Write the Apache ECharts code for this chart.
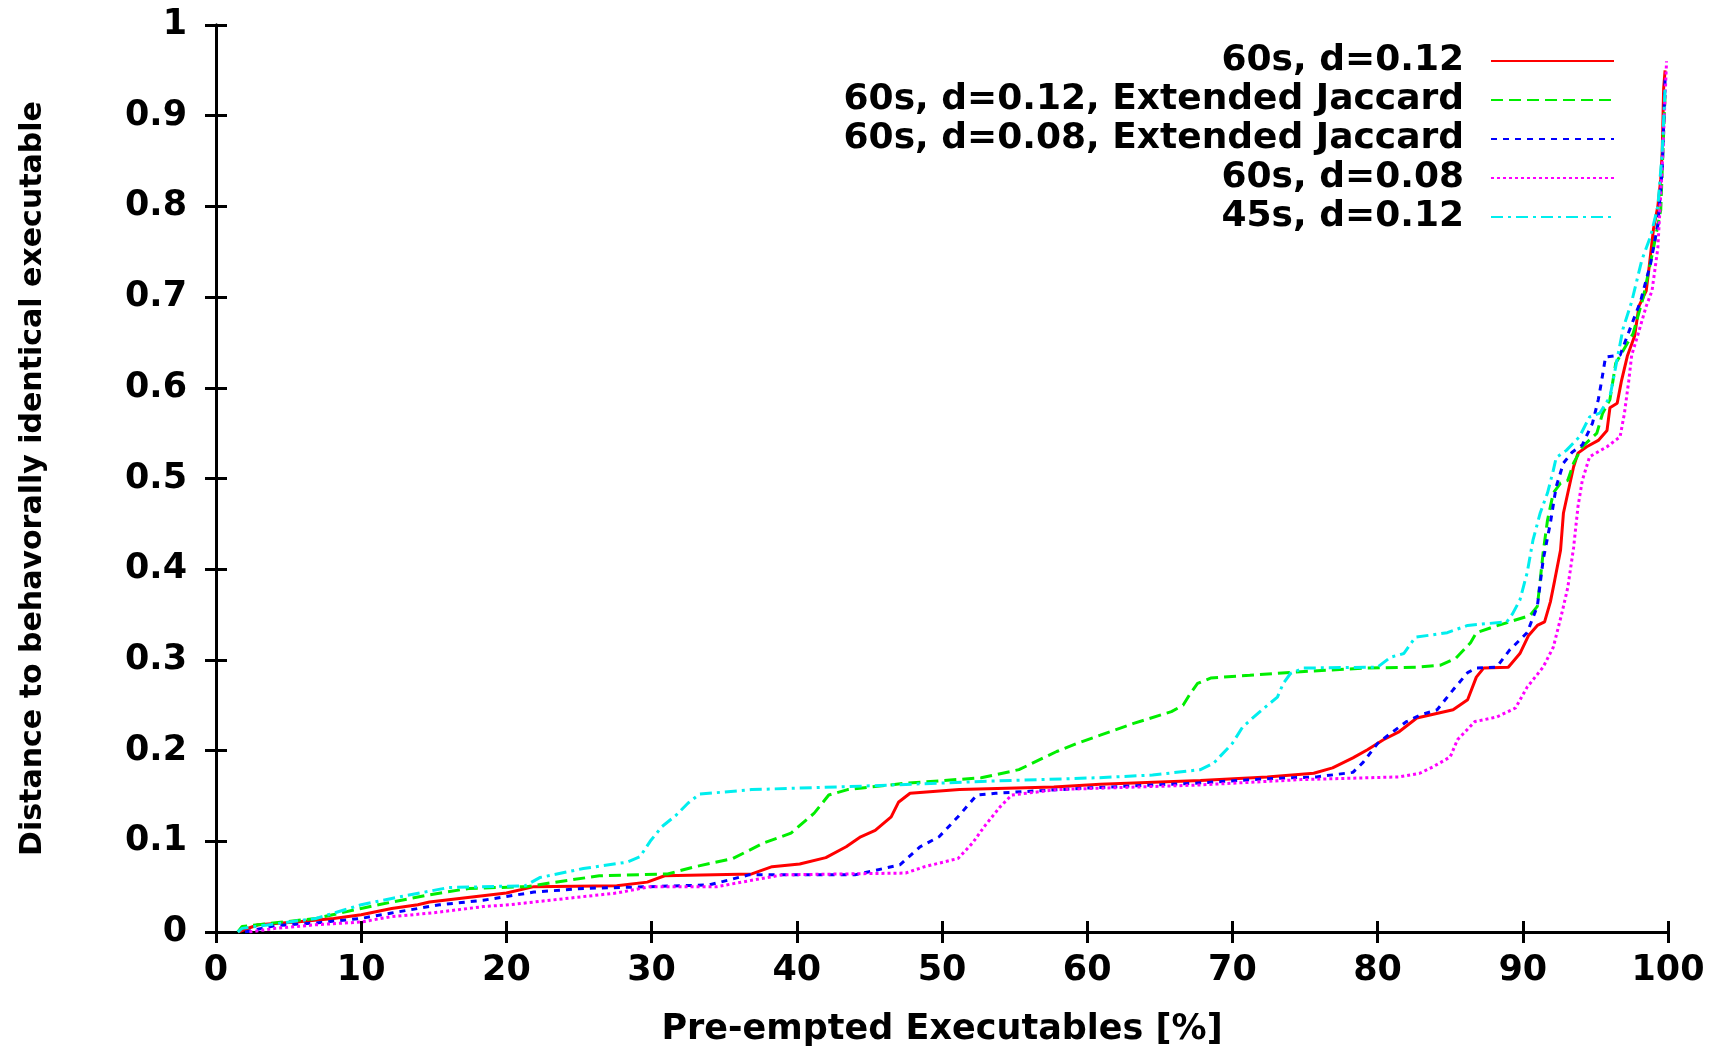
<!DOCTYPE html>
<html>
<head>
<meta charset="utf-8">
<title>Distance to behavorally identical executable</title>
<script src="https://cdn.jsdelivr.net/npm/echarts@6/dist/echarts.min.js"></script>
<style>
  html, body { margin: 0; padding: 0; background: #fff; }
  #chart { width: 1716px; height: 1049px; }
</style>
</head>
<body>
<div id="chart"></div>
<script>
// [percent pre-empted, distance] pairs
var red60s12 = [[1.5,0],[2.9,0.008],[5.5,0.011],[8.1,0.015],[10,0.019],[12.1,0.026],[13.9,0.03],[14.7,0.033],[20,0.043],[21.9,0.05],[27.6,0.051],[29.7,0.055],[30.9,0.062],[36.9,0.064],[38.3,0.072],[40.2,0.075],[42,0.082],[43.4,0.094],[44.4,0.105],[45.4,0.112],[46.5,0.127],[47,0.143],[47.8,0.153],[51.2,0.157],[57.7,0.16],[60.9,0.163],[67.8,0.167],[72.4,0.171],[75.6,0.175],[76.9,0.181],[78.3,0.192],[79.3,0.201],[80.4,0.212],[81.5,0.221],[82.7,0.236],[85.2,0.245],[86.2,0.256],[86.8,0.281],[87.3,0.291],[89,0.292],[89.8,0.307],[90.4,0.327],[91,0.338],[91.5,0.342],[91.9,0.364],[92.2,0.388],[92.6,0.421],[92.8,0.462],[93.1,0.484],[93.5,0.513],[93.8,0.528],[94.4,0.535],[95.2,0.542],[95.8,0.553],[96,0.578],[96.5,0.583],[96.8,0.608],[97.2,0.635],[97.7,0.657],[98,0.69],[98.5,0.707],[98.7,0.733],[99,0.775],[99.3,0.8],[99.5,0.83],[99.6,0.86],[99.7,0.93],[99.8,0.95]];
var green60s12ej = [[1.5,0],[1.8,0.006],[2.9,0.008],[6.9,0.015],[10,0.026],[12.1,0.033],[14.7,0.041],[17.4,0.048],[21.4,0.05],[23,0.054],[26.4,0.062],[31.1,0.064],[33,0.072],[35.6,0.081],[37.7,0.098],[39.6,0.109],[41.2,0.131],[42.2,0.151],[43.5,0.157],[47.5,0.164],[52.7,0.17],[55.3,0.179],[57.9,0.199],[59.3,0.208],[60.9,0.217],[63.2,0.23],[65.8,0.243],[66.6,0.25],[67.1,0.263],[67.6,0.274],[68.5,0.28],[71.2,0.283],[74.7,0.287],[79.3,0.291],[82.7,0.292],[84.3,0.294],[85.4,0.302],[86.4,0.319],[86.8,0.33],[87.9,0.336],[89.1,0.342],[90.5,0.349],[91,0.359],[91.2,0.388],[91.4,0.418],[91.7,0.454],[92.1,0.484],[92.6,0.495],[93.1,0.498],[93.5,0.517],[94.1,0.535],[95.1,0.55],[95.5,0.572],[96,0.587],[96.4,0.627],[97.6,0.66],[98.3,0.7],[99,0.754],[99.5,0.796],[99.8,0.923]];
var blue60s08ej = [[2,0],[2.1,0.002],[4.1,0.007],[6.9,0.01],[10,0.015],[12.1,0.021],[15.4,0.03],[18.4,0.035],[21.9,0.044],[25.3,0.048],[29.9,0.05],[34,0.052],[36.7,0.063],[44,0.063],[47.1,0.074],[48.5,0.094],[49.8,0.105],[51.1,0.127],[52.4,0.151],[53.7,0.153],[60.3,0.159],[67.3,0.164],[72.4,0.169],[75.8,0.171],[78.3,0.176],[79,0.187],[80,0.208],[80.9,0.219],[82,0.232],[82.9,0.239],[84.1,0.245],[85.2,0.267],[86.2,0.286],[86.8,0.291],[88.2,0.292],[89.1,0.311],[90.3,0.33],[91,0.359],[91.4,0.41],[91.9,0.451],[92.3,0.491],[92.8,0.517],[93.4,0.529],[94.1,0.537],[94.8,0.561],[95.2,0.587],[95.4,0.605],[95.7,0.634],[96.7,0.636],[97.5,0.67],[98.1,0.695],[98.8,0.737],[99.3,0.78],[99.6,0.84],[99.8,0.94]];
var magenta60s08 = [[2.3,0],[4.1,0.004],[6.9,0.008],[10,0.011],[12.1,0.017],[14.9,0.021],[18.4,0.028],[20.2,0.03],[23,0.035],[27.6,0.043],[29.9,0.05],[34.5,0.05],[36.9,0.057],[39,0.063],[47.5,0.065],[48.8,0.072],[51.1,0.081],[52.1,0.098],[52.9,0.116],[54,0.138],[54.8,0.151],[57.9,0.157],[67.6,0.162],[74.7,0.168],[81.5,0.171],[82.9,0.175],[83.8,0.182],[85,0.193],[85.5,0.212],[86.7,0.232],[88.2,0.237],[89.5,0.247],[90.3,0.27],[91.4,0.292],[92.1,0.314],[92.7,0.352],[93.1,0.38],[93.5,0.424],[93.8,0.469],[94.1,0.498],[94.6,0.524],[95.8,0.535],[96.7,0.546],[97,0.572],[97.3,0.608],[97.5,0.636],[97.9,0.657],[98.5,0.69],[98.9,0.707],[99.3,0.754],[99.6,0.843],[99.9,0.96]];
var cyan45s12 = [[1.5,0],[1.8,0.004],[6.9,0.015],[10,0.03],[12.1,0.037],[16,0.049],[21.3,0.051],[22.3,0.06],[25.3,0.07],[28.3,0.077],[29.2,0.083],[29.9,0.1],[30.7,0.116],[31.7,0.129],[32.5,0.142],[33.3,0.152],[36.9,0.157],[44.8,0.161],[52.7,0.166],[60.6,0.17],[64.5,0.173],[67.8,0.179],[68.7,0.186],[70,0.208],[70.7,0.226],[71.9,0.243],[73.1,0.259],[73.5,0.274],[74,0.285],[74.9,0.291],[80,0.292],[80.9,0.303],[81.8,0.307],[82.6,0.325],[84.8,0.33],[86.2,0.338],[88.9,0.342],[89.3,0.351],[89.8,0.366],[90.3,0.396],[90.7,0.432],[91.2,0.462],[91.7,0.484],[92.1,0.509],[92.3,0.523],[93,0.531],[93.9,0.546],[94.6,0.568],[95.3,0.572],[96,0.59],[96.9,0.665],[97.5,0.695],[98.2,0.741],[98.8,0.767],[99.3,0.8],[99.6,0.86],[99.8,0.93]];

var seriesNames = ["60s, d=0.12", "60s, d=0.12, Extended Jaccard", "60s, d=0.08, Extended Jaccard", "60s, d=0.08", "45s, d=0.12"];
var seriesData = [red60s12, green60s12ej, blue60s08ej, magenta60s08, cyan45s12];
var seriesColors = ["#ff0000", "#00ee00", "#0000ff", "#ff00ff", "#00eeee"];
var seriesDash = ["solid", [12, 6], [6, 6], [3, 3], [12, 5, 3, 5]];

var FONT = "DejaVu Sans";
var chart = echarts.init(document.getElementById("chart"), null, { renderer: "canvas" });

var txt = { fontFamily: FONT, fontWeight: "bold", fontSize: 35, color: "#000" };
var frameLine = { lineStyle: { color: "#000", width: 3 } };
var innerTick = { inside: true, length: 11, lineStyle: { color: "#000", width: 3 } };

var series = seriesData.map(function (d, i) {
    return {
        name: seriesNames[i],
        type: "line",
        data: d,
        symbol: "none",
        animation: false,
        lineStyle: { color: seriesColors[i], width: 3, type: seriesDash[i] },
        itemStyle: { color: seriesColors[i] }
    };
});

chart.setOption({
    backgroundColor: "#fff",
    animation: false,
    grid: { left: 216, right: 48, top: 25, bottom: 117, show: false, outerBoundsMode: "none" },
    legend: {
        orient: "vertical",
        right: 96,
        top: 38,
        align: "right",
        itemWidth: 123,
        itemHeight: 14,
        itemGap: 3,
        data: seriesNames,
        itemStyle: { opacity: 0 },
        textStyle: { fontFamily: FONT, fontWeight: "bold", fontSize: 36, color: "#000", padding: [0, 22, 0, 0] }
    },
    xAxis: [{
        type: "value",
        min: 0, max: 100, interval: 10,
        name: "Pre-empted Executables [%]",
        nameLocation: "middle",
        nameGap: 80,
        nameTextStyle: txt,
        axisLine: frameLine,
        axisTick: innerTick,
        axisLabel: Object.assign({ margin: 21 }, txt),
        splitLine: { show: false }
    }, {
        type: "value",
        position: "top",
        min: 0, max: 100, interval: 10,
        axisLine: frameLine,
        axisTick: innerTick,
        axisLabel: { show: false },
        splitLine: { show: false }
    }],
    yAxis: [{
        type: "value",
        min: 0, max: 1, interval: 0.1,
        name: "Distance to behavorally identical executable",
        nameLocation: "middle",
        nameGap: 168,
        nameTextStyle: Object.assign({}, txt, { fontSize: 30 }),
        axisLine: frameLine,
        axisTick: innerTick,
        axisLabel: Object.assign({ margin: 29 }, txt),
        splitLine: { show: false }
    }, {
        type: "value",
        position: "right",
        min: 0, max: 1, interval: 0.1,
        axisLine: frameLine,
        axisTick: innerTick,
        axisLabel: { show: false },
        splitLine: { show: false }
    }],
    series: series
});
</script>
</body>
</html>
